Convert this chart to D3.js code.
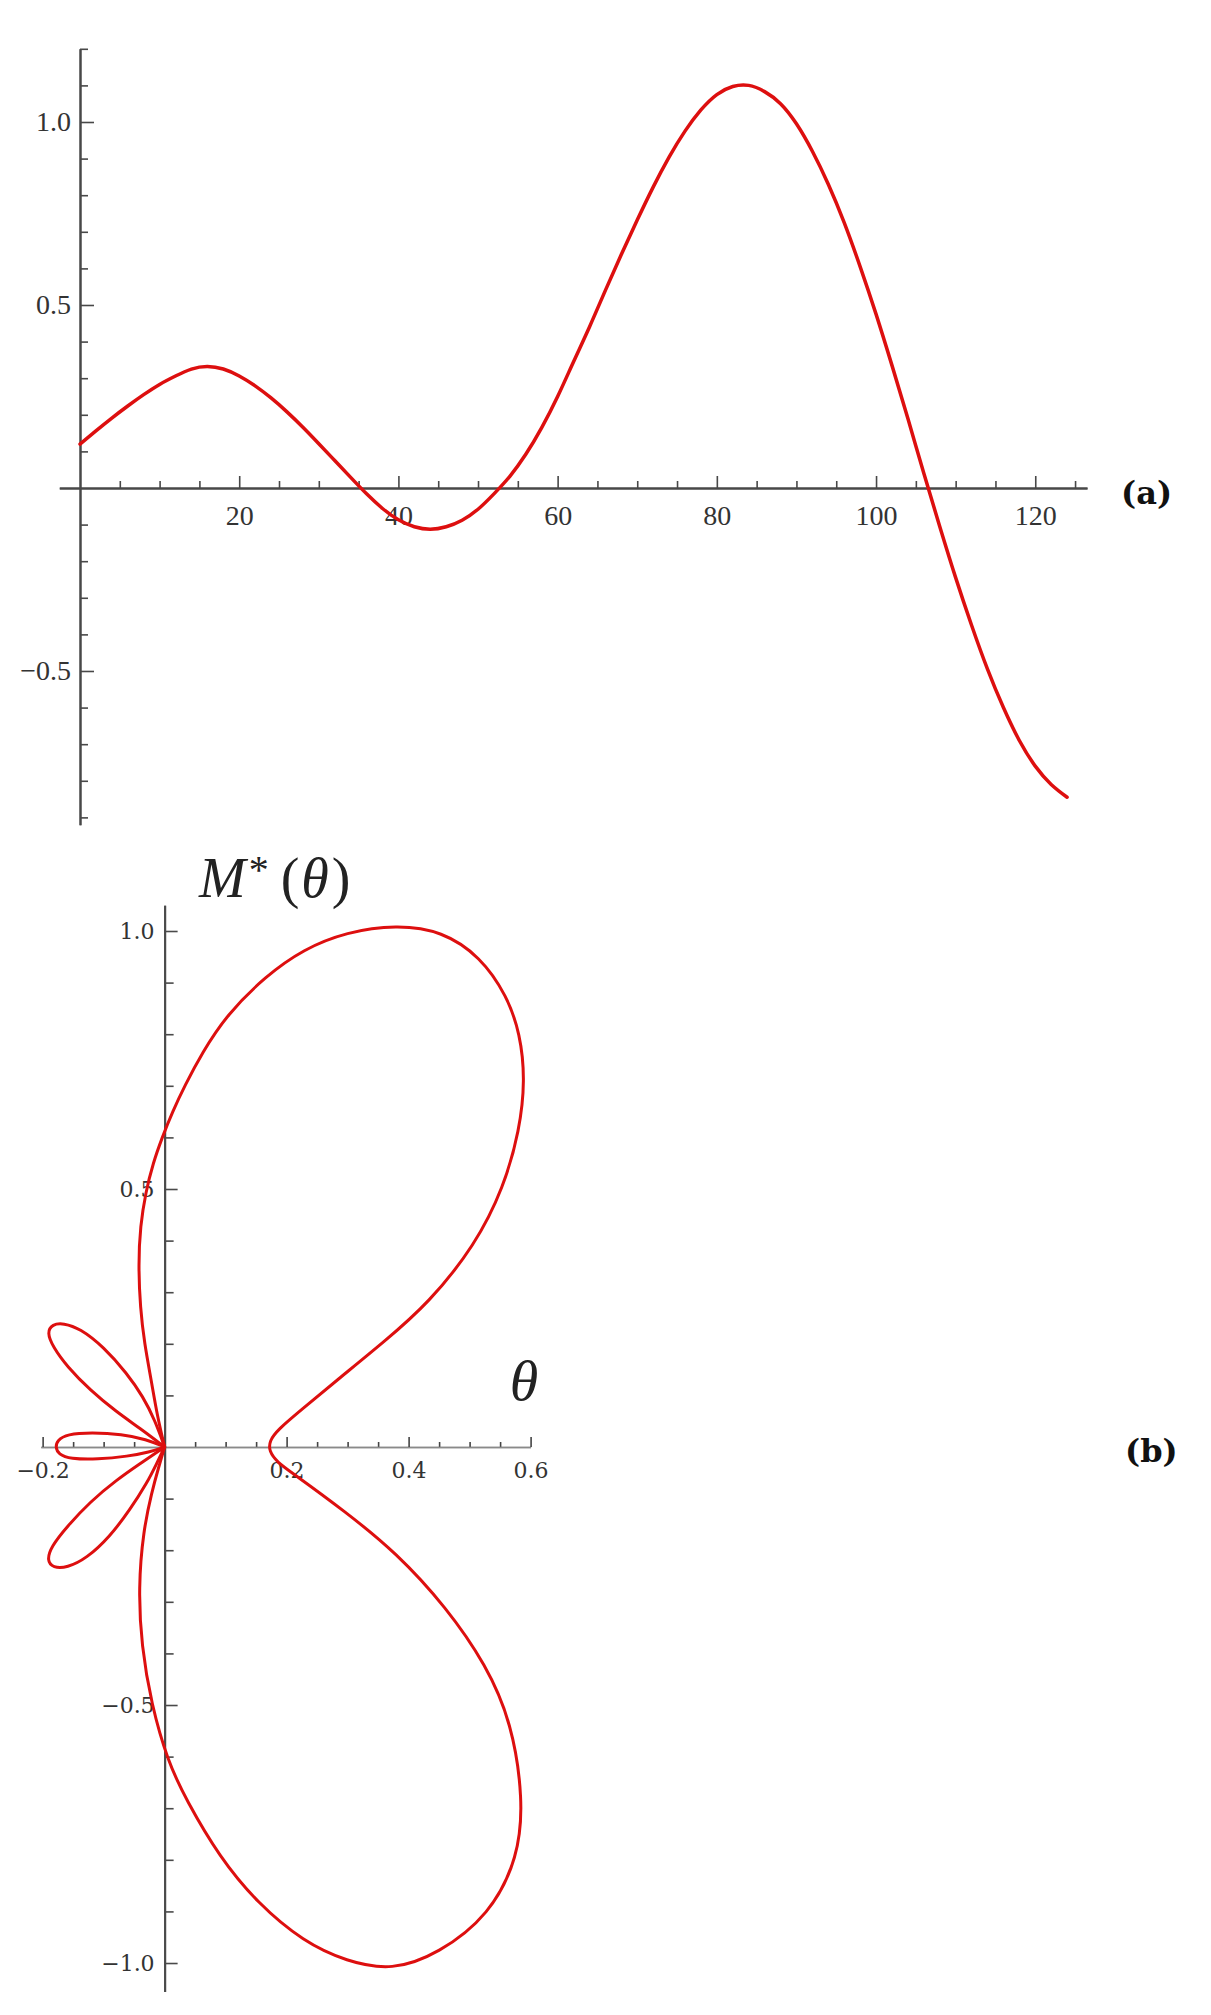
<!DOCTYPE html>
<html><head><meta charset="utf-8">
<script src="https://cdn.jsdelivr.net/npm/d3@7"></script>
<style>body{margin:0;background:#fff}svg{display:block}</style>
</head><body>
<svg id="chart" width="1211" height="2015"></svg>
<script>
// ---------- Panel (a): M*(theta) vs theta ----------
const thetaA = [0,2,4,6,8,10,12,14,16,18,20,22,24,26,28,30,32,34,36,38,40,42,44,46,48,50,52,54,56,58,60,62,64,66,68,70,72,74,76,78,80,82,84,86,88,90,92,94,96,98,100,102,104,106,108,110,112,114,116,118,120,122,124];
const mA = [0.12,0.156,0.191,0.224,0.255,0.283,0.306,0.325,0.332,0.325,0.306,0.279,0.246,0.208,0.166,0.121,0.075,0.029,-0.016,-0.056,-0.087,-0.106,-0.113,-0.106,-0.088,-0.058,-0.016,0.032,0.092,0.165,0.25,0.345,0.44,0.54,0.638,0.732,0.822,0.904,0.975,1.033,1.075,1.097,1.10,1.083,1.05,0.995,0.92,0.83,0.725,0.605,0.475,0.335,0.19,0.04,-0.105,-0.245,-0.375,-0.495,-0.6,-0.69,-0.76,-0.81,-0.845];
const aXMajor = [20,40,60,80,100,120];
const aXMinor = [5,10,15,25,30,35,45,50,55,65,70,75,85,90,95,105,110,115,125];
const aYMajor = [-0.5,0.5,1.0];
const aYMinor = [-0.9,-0.8,-0.7,-0.6,-0.4,-0.3,-0.2,-0.1,0.1,0.2,0.3,0.4,0.6,0.7,0.8,0.9,1.1,1.2];

// ---------- Panel (b) ----------
const mainLoop = [[0,0],[-0.012,0.06],[-0.022,0.13],[-0.033,0.2],[-0.040,0.27],[-0.043,0.353],[-0.040,0.428],[-0.031,0.494],[-0.019,0.55],[-0.004,0.60],[0.013,0.65],[0.033,0.70],[0.061,0.763],[0.102,0.838],[0.165,0.912],[0.228,0.965],[0.298,0.998],[0.38,1.012],[0.455,1.0],[0.518,0.95],[0.561,0.875],[0.583,0.801],[0.591,0.711],[0.582,0.614],[0.556,0.503],[0.509,0.391],[0.433,0.279],[0.360,0.204],[0.283,0.13],[0.222,0.07],[0.185,0.033],[0.172,0.012],[0.171,-0.008],[0.185,-0.03],[0.209,-0.05],[0.295,-0.124],[0.38,-0.205],[0.462,-0.311],[0.527,-0.422],[0.569,-0.534],[0.588,-0.683],[0.580,-0.795],[0.533,-0.907],[0.449,-0.982],[0.373,-1.015],[0.298,-0.997],[0.228,-0.959],[0.153,-0.885],[0.090,-0.795],[0.035,-0.683],[0.005,-0.609],[-0.022,-0.497],[-0.038,-0.385],[-0.043,-0.273],[-0.035,-0.162],[-0.021,-0.087],[-0.01,-0.04],[0,0]];
const upperPetal = [[0,0],[-0.040,0.036],[-0.079,0.068],[-0.122,0.110],[-0.160,0.156],[-0.183,0.194],[-0.193,0.222],[-0.184,0.238],[-0.166,0.240],[-0.139,0.230],[-0.100,0.194],[-0.062,0.143],[-0.035,0.097],[-0.016,0.052],[0,0]];
const middlePetal = [[0,0],[-0.03,0.015],[-0.07,0.025],[-0.12,0.028],[-0.16,0.025],[-0.176,0.013],[-0.179,0],[-0.174,-0.014],[-0.155,-0.023],[-0.11,-0.024],[-0.06,-0.018],[-0.025,-0.01],[0,0]];
const lowerPetal = [[0,0],[-0.013,-0.032],[-0.029,-0.070],[-0.057,-0.122],[-0.090,-0.174],[-0.128,-0.216],[-0.160,-0.234],[-0.183,-0.234],[-0.193,-0.220],[-0.186,-0.193],[-0.160,-0.154],[-0.122,-0.106],[-0.079,-0.064],[-0.040,-0.032],[0,0]];
const bXMajor = [-0.2,0.2,0.4,0.6];
const bXMinor = [-0.15,-0.1,-0.05,0.05,0.1,0.15,0.25,0.3,0.35,0.45,0.5,0.55];
const bYMajor = [-1.0,-0.5,0.5,1.0];
const bYMinor = [-0.9,-0.8,-0.7,-0.6,-0.4,-0.3,-0.2,-0.1,0.1,0.2,0.3,0.4,0.6,0.7,0.8,0.9];

const RED = "#dd0f0f";
const svg = d3.select("#chart");
svg.append("rect").attr("width",1211).attr("height",2015).attr("fill","#fff");

function styleAxis(g, color, w, tw, font, size, fill){
  g.attr("font-family", font).attr("font-size", size);
  g.select(".domain").attr("stroke", color).attr("stroke-width", w);
  g.selectAll(".tick line").attr("stroke", color).attr("stroke-width", tw);
  g.selectAll(".tick text").attr("fill", fill);
}

// ===== Panel (a) =====
const xA = d3.scaleLinear().domain([-2.6,126.5]).range([59.3,1087]);
const yA = d3.scaleLinear().domain([-0.92,1.2]).range([824.7,48.8]);
const fa = "Liberation Serif, Times New Roman, serif";

const gAxm = svg.append("g").attr("transform",`translate(0,${yA(0)})`)
  .call(d3.axisBottom(xA).tickValues(aXMinor).tickSizeInner(-7).tickSizeOuter(0).tickFormat(""));
styleAxis(gAxm,"#484848",2,1.6,fa,28,"#333");
const gAx = svg.append("g").attr("transform",`translate(0,${yA(0)})`)
  .call(d3.axisBottom(xA).tickValues(aXMajor).tickSizeInner(-12).tickSizeOuter(0).tickPadding(17).tickFormat(d3.format("d")));
styleAxis(gAx,"#484848",2,1.6,fa,28,"#333");

const gAym = svg.append("g").attr("transform",`translate(${xA(0)},0)`)
  .call(d3.axisLeft(yA).tickValues(aYMinor).tickSizeInner(-8).tickSizeOuter(0).tickFormat(""));
styleAxis(gAym,"#484848",2,1.6,fa,28,"#333");
const gAy = svg.append("g").attr("transform",`translate(${xA(0)},0)`)
  .call(d3.axisLeft(yA).tickValues(aYMajor).tickSizeInner(-14).tickSizeOuter(0).tickPadding(9).tickFormat(d3.format(".1f")));
styleAxis(gAy,"#484848",2,1.6,fa,28,"#333");

const lineA = d3.line().x(d=>xA(d[0])).y(d=>yA(d[1])).curve(d3.curveNatural);
svg.append("path").datum(d3.zip(thetaA,mA)).attr("d",lineA)
  .attr("fill","none").attr("stroke",RED).attr("stroke-width",3.5).attr("stroke-linejoin","round").attr("stroke-linecap","round");

svg.append("text").attr("x",1121).attr("y",504).attr("font-family","DejaVu Serif, serif")
  .attr("font-weight","bold").attr("font-size",32).attr("fill","#111").text("(a)");

// ===== Panel (b) =====
const xB = d3.scaleLinear().domain([-0.203,0.6]).range([40.8,530.6]);
const yB = d3.scaleLinear().domain([-1.055,1.05]).range([1991.4,905.2]);
const fb = "DejaVu Serif, serif";

const gBxm = svg.append("g").attr("transform",`translate(0,${yB(0)})`)
  .call(d3.axisBottom(xB).tickValues(bXMinor).tickSizeInner(-5).tickSizeOuter(0).tickFormat(""));
styleAxis(gBxm,"#8a8a8a",1.4,1.6,fb,22,"#333");
gBxm.selectAll(".tick line").attr("stroke","#444");
const gBx = svg.append("g").attr("transform",`translate(0,${yB(0)})`)
  .call(d3.axisBottom(xB).tickValues(bXMajor).tickSizeInner(-10).tickSizeOuter(0).tickPadding(15).tickFormat(d3.format(".1f")));
styleAxis(gBx,"#8a8a8a",1.4,1.6,fb,22,"#333");
gBx.selectAll(".tick line").attr("stroke","#444");

const gBym = svg.append("g").attr("transform",`translate(${xB(0)},0)`)
  .call(d3.axisLeft(yB).tickValues(bYMinor).tickSizeInner(-9).tickSizeOuter(0).tickFormat(""));
styleAxis(gBym,"#4a4a4a",2,1.6,fb,22,"#333");
const gBy = svg.append("g").attr("transform",`translate(${xB(0)},0)`)
  .call(d3.axisLeft(yB).tickValues(bYMajor).tickSizeInner(-13).tickSizeOuter(0).tickPadding(10).tickFormat(d3.format(".1f")));
styleAxis(gBy,"#4a4a4a",2,1.6,fb,22,"#333");

const lineB = d3.line().x(d=>xB(d[0])).y(d=>yB(d[1])).curve(d3.curveBasis);
[mainLoop, upperPetal, middlePetal, lowerPetal].forEach(p=>{
  svg.append("path").datum(p).attr("d",lineB)
    .attr("fill","none").attr("stroke",RED).attr("stroke-width",3).attr("stroke-linejoin","round").attr("stroke-linecap","round");
});

// axis titles
const t1 = svg.append("text").attr("x",199).attr("y",897).attr("font-family","Liberation Serif, serif")
  .attr("font-size",56).attr("fill","#222");
t1.append("tspan").attr("font-style","italic").text("M");
t1.append("tspan").attr("font-size",40).attr("dx",3).attr("dy",-14).text("*");
t1.append("tspan").attr("dy",14).attr("dx",12).text("(");
t1.append("tspan").attr("font-style","italic").attr("dx",2).text("θ");
t1.append("tspan").attr("dx",3).text(")");

svg.append("text").attr("x",524).attr("y",1400).attr("text-anchor","middle")
  .attr("font-family","Liberation Serif, serif").attr("font-style","italic")
  .attr("font-size",58).attr("fill","#222").text("θ");

svg.append("text").attr("x",1125).attr("y",1462).attr("font-family","DejaVu Serif, serif")
  .attr("font-weight","bold").attr("font-size",32).attr("fill","#111").text("(b)");
</script>
</body></html>
